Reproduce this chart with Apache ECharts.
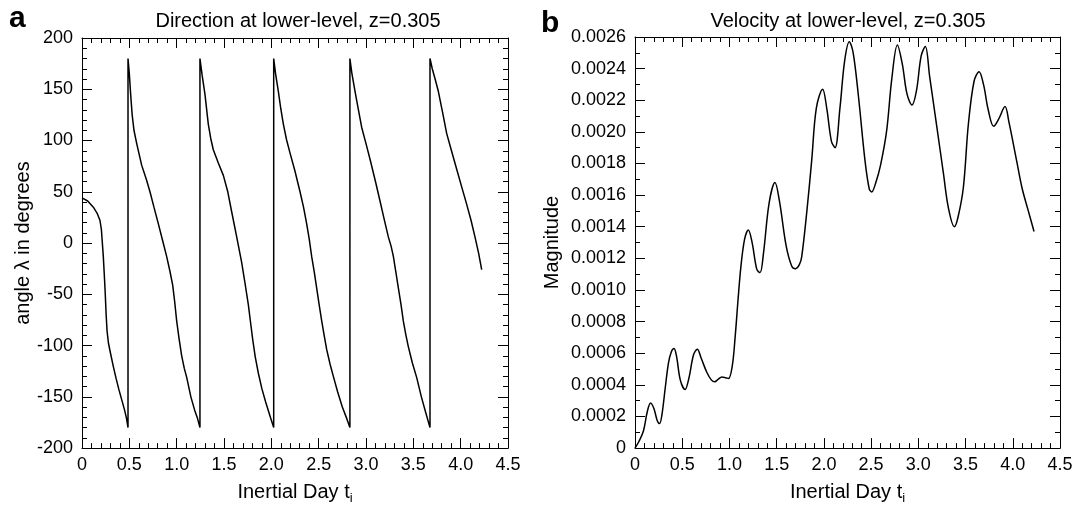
<!DOCTYPE html>
<html>
<head>
<meta charset="utf-8">
<script src="https://cdn.jsdelivr.net/npm/echarts@6/dist/echarts.min.js"></script>
<style>
html,body{margin:0;padding:0;background:#fff;}
#chart{width:1081px;height:510px;}
</style>
</head>
<body>
<div id="chart"></div>
<script>
// ---------- data ----------
var panelLetters = ['a', 'b'];
var panelTitles = ['Direction at lower-level, z=0.305', 'Velocity at lower-level, z=0.305'];
var xName = 'Inertial Day t';
var xSub = 'i';
var yNames = ['angle \u03bb in degrees', 'Magnitude'];
var xTicks = [0, 0.5, 1.0, 1.5, 2.0, 2.5, 3.0, 3.5, 4.0, 4.5];
var dirTicks = [-200, -150, -100, -50, 0, 50, 100, 150, 200];
var velTicks = [0, 0.0002, 0.0004, 0.0006, 0.0008, 0.0010, 0.0012, 0.0014, 0.0016, 0.0018, 0.0020, 0.0022, 0.0024, 0.0026];

// direction (degrees) vs inertial day
var dirT = [
  0.00, 0.06, 0.12, 0.16, 0.19, 0.205, 0.215, 0.225, 0.235, 0.245, 0.255, 0.265, 0.28, 0.30, 0.33, 0.36, 0.39, 0.42, 0.45, 0.47, 0.486,
  0.486, 0.50, 0.514, 0.53, 0.549, 0.578, 0.63, 0.68, 0.718, 0.76, 0.806, 0.85, 0.894, 0.93, 0.958, 0.98, 1.00, 1.025, 1.053, 1.08, 1.106, 1.15, 1.19, 1.22, 1.246,
  1.246, 1.27, 1.299, 1.334, 1.36, 1.387, 1.44, 1.493, 1.54, 1.58, 1.634, 1.687, 1.72, 1.757, 1.78, 1.803, 1.83, 1.863, 1.90, 1.94, 1.99, 2.025,
  2.025, 2.045, 2.074, 2.10, 2.127, 2.16, 2.197, 2.25, 2.303, 2.34, 2.373, 2.40, 2.426, 2.455, 2.479, 2.505, 2.532, 2.56, 2.585, 2.62, 2.655, 2.70, 2.75, 2.80, 2.83,
  2.83, 2.85, 2.884, 2.92, 2.954, 3.00, 3.042, 3.10, 3.148, 3.19, 3.236, 3.265, 3.289, 3.315, 3.342, 3.37, 3.394, 3.42, 3.447, 3.49, 3.535, 3.585, 3.63, 3.676,
  3.676, 3.70, 3.73, 3.764, 3.81, 3.852, 3.90, 3.958, 4.01, 4.063, 4.11, 4.151, 4.19, 4.222
];
var dirV = [
  44, 41, 35, 29, 22, 13, 0, -13, -30, -48, -70, -86, -98, -107, -120, -132, -143, -153, -163, -171, -180,
  180, 165, 145, 125, 110, 97, 76, 62, 50, 35, 19, 3, -13, -28, -41, -58, -76, -93, -110, -122, -131, -150, -163, -171, -180,
  180, 163, 145, 116, 102, 91, 78, 66, 50, 31, 6, -19, -38, -60, -77, -94, -111, -127, -142, -155, -170, -180,
  180, 165, 148, 131, 116, 101, 88, 70, 50, 35, 19, 4, -13, -29, -44, -60, -76, -91, -104, -118, -130, -145, -160, -172, -180,
  180, 166, 148, 130, 113, 97, 82, 60, 41, 24, 6, -3, -13, -28, -44, -60, -76, -89, -101, -117, -131, -150, -165, -180,
  180, 170, 160, 148, 127, 107, 91, 72, 55, 38, 22, 6, -10, -26
];

// velocity magnitude vs inertial day
var velT = [
  0.00, 0.04, 0.09, 0.13, 0.165, 0.20, 0.235, 0.26, 0.285, 0.32, 0.355, 0.385, 0.413, 0.44, 0.48, 0.53, 0.57, 0.62, 0.66, 0.70, 0.76, 0.81, 0.845, 0.88, 0.92, 0.96, 0.99,
  1.03, 1.06, 1.09, 1.12, 1.16, 1.20, 1.24, 1.29, 1.324, 1.36, 1.42, 1.482, 1.53, 1.60, 1.66, 1.70, 1.74, 1.765, 1.82, 1.871, 1.92, 1.987,
  2.03, 2.08, 2.118, 2.17, 2.22, 2.269, 2.31, 2.365, 2.435, 2.48, 2.506, 2.55, 2.60, 2.665, 2.718, 2.778, 2.83, 2.88, 2.933, 2.98, 3.03, 3.074,
  3.12, 3.194, 3.265, 3.318, 3.381, 3.42, 3.477, 3.53, 3.59, 3.643, 3.69, 3.74, 3.798, 3.85, 3.918, 3.96, 4.04, 4.10, 4.16, 4.225
];
var velV = [
  0.0, 0.00004, 0.00011, 0.00023, 0.000285, 0.00025, 0.000175, 0.000155, 0.00021, 0.00038, 0.00054, 0.00061, 0.00063, 0.00058, 0.00043, 0.00037, 0.00044, 0.00059, 0.000625, 0.00057, 0.00048, 0.00043, 0.00042, 0.000435, 0.00045, 0.000445, 0.00044,
  0.00052, 0.0007, 0.00093, 0.00114, 0.00132, 0.00138, 0.0013, 0.00113, 0.00111, 0.00123, 0.00155, 0.00168, 0.00156, 0.00128, 0.00115, 0.001135, 0.00116, 0.00121, 0.0015, 0.00182, 0.00215, 0.00227,
  0.00215, 0.00194, 0.0019, 0.00215, 0.00245, 0.00257, 0.0025, 0.00223, 0.00182, 0.00164, 0.00162, 0.00168, 0.00179, 0.00201, 0.00233, 0.00255, 0.00243, 0.00224, 0.00217, 0.00226, 0.00248, 0.00254,
  0.00235, 0.00204, 0.00174, 0.00152, 0.0014, 0.00146, 0.00165, 0.00205, 0.00232, 0.00238, 0.0023, 0.00214, 0.002035, 0.00208, 0.00216, 0.00206, 0.00182, 0.00164, 0.00151, 0.00137
];

function pairs(xs, ys) { var out = []; for (var i = 0; i < xs.length; i++) out.push([xs[i], ys[i]]); return out; }

var FONT = '"Liberation Sans", Arial, Helvetica, sans-serif';
var INK = '#000';

function xAxisDef(grid, pos, labels) {
  return {
    type: 'value', gridIndex: grid, position: pos,
    min: xTicks[0], max: xTicks[xTicks.length - 1], interval: 0.5,
    axisLine: { show: true, onZero: false, lineStyle: { color: INK, width: 1 } },
    axisTick: { show: true, inside: true, length: 10, lineStyle: { color: INK, width: 1 } },
    minorTick: { show: true, splitNumber: 5, length: 5, lineStyle: { color: INK, width: 1 } },
    splitLine: { show: false }, minorSplitLine: { show: false },
    axisLabel: { show: labels, color: INK, fontSize: 18, fontFamily: FONT, margin: 8,
      formatter: function (v) { return v === 0 ? '0' : v.toFixed(1); } },
    name: labels ? xName + '{sub|' + xSub + '}' : '',
    nameLocation: 'middle', nameGap: 26,
    nameTextStyle: { color: INK, fontSize: 20, fontFamily: FONT, lineHeight: 26,
      rich: { sub: { fontSize: 13, fontFamily: FONT, color: INK, verticalAlign: 'bottom', lineHeight: 13 } } }
  };
}
function yAxisDef(grid, pos, labels, ticks, interval, minorN, fmt, name, gap) {
  return {
    type: 'value', gridIndex: grid, position: pos,
    min: ticks[0], max: ticks[ticks.length - 1], interval: interval,
    axisLine: { show: true, onZero: false, lineStyle: { color: INK, width: 1 } },
    axisTick: { show: true, inside: true, length: 10, lineStyle: { color: INK, width: 1 } },
    minorTick: { show: true, splitNumber: minorN, length: 5, lineStyle: { color: INK, width: 1 } },
    splitLine: { show: false }, minorSplitLine: { show: false },
    axisLabel: { show: labels, color: INK, fontSize: 18, fontFamily: FONT, margin: 9, formatter: fmt },
    name: labels ? name : '', nameLocation: 'middle', nameGap: gap,
    nameTextStyle: { color: INK, fontSize: 20, fontFamily: FONT }
  };
}

var chart = echarts.init(document.getElementById('chart'), null, { renderer: 'canvas' });
chart.setOption({
  animation: false,
  backgroundColor: '#fff',
  grid: [
    { left: 82, right: 573, top: 38, bottom: 48, containLabel: false },
    { left: 635, right: 21, top: 37, bottom: 49, containLabel: false }
  ],
  xAxis: [
    xAxisDef(0, 'bottom', true), xAxisDef(0, 'top', false),
    xAxisDef(1, 'bottom', true), xAxisDef(1, 'top', false)
  ],
  yAxis: [
    yAxisDef(0, 'left', true, dirTicks, 50, 5, function (v) { return String(v); }, yNames[0], 47),
    yAxisDef(0, 'right', false, dirTicks, 50, 5, null, '', 0),
    yAxisDef(1, 'left', true, velTicks, 0.0002, 2, function (v) { return v === 0 ? '0' : v.toFixed(4); }, yNames[1], 73),
    yAxisDef(1, 'right', false, velTicks, 0.0002, 2, null, '', 0)
  ],
  graphic: [
    { type: 'text', left: 9, top: 4, style: { text: panelLetters[0], fontSize: 30, fontWeight: 'bold', fontFamily: FONT, fill: INK } },
    { type: 'text', left: 541, top: 9, style: { text: panelLetters[1], fontSize: 30, fontWeight: 'bold', fontFamily: FONT, fill: INK } },
    { type: 'text', style: { x: 298, y: 21, text: panelTitles[0], align: 'center', verticalAlign: 'middle', fontSize: 20, fontFamily: FONT, fill: INK } },
    { type: 'text', style: { x: 848, y: 21, text: panelTitles[1], align: 'center', verticalAlign: 'middle', fontSize: 20, fontFamily: FONT, fill: INK } }
  ],
  series: [
    { type: 'line', xAxisIndex: 0, yAxisIndex: 0, data: pairs(dirT, dirV), showSymbol: false, symbol: 'none',
      lineStyle: { color: INK, width: 1.5 }, clip: true },
    { type: 'line', xAxisIndex: 2, yAxisIndex: 2, data: pairs(velT, velV), showSymbol: false, symbol: 'none', smooth: 0.35,
      lineStyle: { color: INK, width: 1.5 }, clip: true }
  ]
});
</script>
</body>
</html>
